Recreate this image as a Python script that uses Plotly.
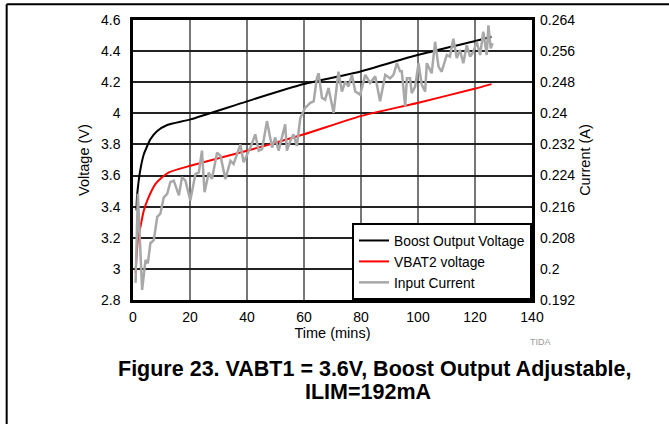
import plotly.graph_objects as go

# ---- data ----
boost_t = [1.2, 1.4, 2.0, 2.8, 3.8, 5.0, 6.1, 8.5, 12.0, 20.1, 40.0, 59.9, 79.8, 99.8, 119.8, 125.8]
boost_v = [3.376, 3.461, 3.568, 3.66, 3.737, 3.79, 3.833, 3.886, 3.925, 3.961, 4.077, 4.188, 4.269, 4.375, 4.464, 4.492]

vbat_t = [0.9, 1.7, 2.6, 3.8, 5.5, 7.9, 10.2, 12.6, 20.1, 40.0, 60.0, 79.8, 99.8, 119.8, 125.8]
vbat_v = [2.973, 3.185, 3.270, 3.376, 3.461, 3.546, 3.589, 3.621, 3.663, 3.759, 3.865, 3.982, 4.067, 4.158, 4.188]

cur_t = [0.9, 1.7, 3.2, 4.4, 5.2, 6.1, 7.3, 8.5, 9.6, 10.8, 12.0, 13.1, 14.3, 16.1, 17.2, 18.4,
         20.1, 21.9, 23.1, 24.2, 25.1, 26.6, 27.7, 29.5, 30.7, 32.4, 34.2, 35.3, 37.7, 38.8,
         41.2, 42.9, 44.1, 45.3, 47.0, 48.8, 49.9, 51.1, 53.4, 54.0, 55.2, 56.3, 57.5, 58.7,
         60.4, 62.2, 63.4, 64.5, 65.1, 66.3, 67.4, 68.6, 70.4, 72.1, 73.3, 74.5, 75.6, 76.8,
         78.0, 79.7, 81.5, 83.2, 85.0, 86.7, 88.5, 90.2, 91.4, 92.6, 93.7, 94.3, 95.5, 96.1,
         97.2, 97.8, 99.0, 100.2, 101.3, 102.5, 103.1, 104.8, 106.0, 107.2, 108.3, 110.1,
         111.2, 112.4, 113.6, 114.7, 115.9, 117.1, 118.3, 119.4, 120.6, 121.8, 122.9, 124.1,
         124.7, 125.5, 126.2]
cur_a = [0.1964, 0.2193, 0.1946, 0.2023, 0.2014, 0.2066, 0.2074, 0.2134, 0.2142, 0.2184,
         0.2193, 0.2223, 0.2227, 0.2189, 0.2236, 0.2227, 0.2176, 0.2244, 0.2248, 0.2304,
         0.2197, 0.2248, 0.2231, 0.2299, 0.2291, 0.2231, 0.2278, 0.2270, 0.2320, 0.2274,
         0.2312, 0.2346, 0.2304, 0.2308, 0.2380, 0.2312, 0.2338, 0.2304, 0.2372, 0.2304,
         0.2329, 0.2346, 0.2316, 0.2388, 0.2414, 0.2427, 0.2431, 0.2490, 0.2503, 0.2440,
         0.2435, 0.2465, 0.2401, 0.2507, 0.2456, 0.2482, 0.2469, 0.2499, 0.2456, 0.2448,
         0.2499, 0.2478, 0.2495, 0.2431, 0.2499, 0.2490, 0.2499, 0.2529, 0.2508, 0.2508,
         0.2418, 0.2490, 0.2490, 0.2452, 0.2469, 0.2529, 0.2474, 0.2456, 0.2529, 0.2503,
         0.2584, 0.2520, 0.2507, 0.2550, 0.2546, 0.2592, 0.2542, 0.2563, 0.2529, 0.2575,
         0.2546, 0.2558, 0.2584, 0.2550, 0.2610, 0.2550, 0.2626, 0.2567, 0.2580]

x_ticks = [0, 20, 40, 60, 80, 100, 120, 140]
v_ticks = [2.8, 3.0, 3.2, 3.4, 3.6, 3.8, 4.0, 4.2, 4.4, 4.6]
v_labels = ["2.8", "3", "3.2", "3.4", "3.6", "3.8", "4", "4.2", "4.4", "4.6"]
a_ticks = [0.192, 0.200, 0.208, 0.216, 0.224, 0.232, 0.240, 0.248, 0.256, 0.264]
a_labels = ["0.192", "0.2", "0.208", "0.216", "0.224", "0.232", "0.24", "0.248", "0.256", "0.264"]

title_line1 = "Figure 23. VABT1 = 3.6V, Boost Output Adjustable,"
title_line2 = "ILIM=192mA"

FONT = "Liberation Sans, Arial, sans-serif"

fig = go.Figure()
fig.add_trace(go.Scatter(x=boost_t, y=boost_v, mode="lines", name="Boost Output Voltage",
                         line=dict(color="black", width=2, shape="spline", smoothing=0.6)))
fig.add_trace(go.Scatter(x=vbat_t, y=vbat_v, mode="lines", name="VBAT2 voltage",
                         line=dict(color="#ff0000", width=2, shape="spline", smoothing=0.6)))
fig.add_trace(go.Scatter(x=cur_t, y=cur_a, mode="lines", name="Input Current", yaxis="y2",
                         line=dict(color="#a8a8a8", width=2.5)))

fig.update_layout(
    width=669, height=424,
    margin=dict(l=132.5, r=137, t=18, b=123.5),
    paper_bgcolor="white", plot_bgcolor="white",
    font=dict(family=FONT, size=14, color="black"),
    showlegend=True,
    legend=dict(x=1, y=0, xanchor="right", yanchor="bottom", bgcolor="white",
                bordercolor="black", borderwidth=2, font=dict(size=13.8, family=FONT),
                tracegroupgap=0, itemwidth=30),
    xaxis=dict(range=[0, 140], tickvals=x_ticks, ticks="", showline=True, mirror=True,
               linecolor="black", linewidth=2.5, showgrid=True, gridcolor="#777777",
               gridwidth=2, zeroline=False, ticklabelstandoff=2,
               title=dict(text="Time (mins)", font=dict(size=14.5), standoff=0)),
    yaxis=dict(range=[2.8, 4.6], tickvals=v_ticks, ticktext=v_labels, ticks="",
               showline=True, mirror=True, linecolor="black", linewidth=2.5,
               showgrid=True, gridcolor="#222222", gridwidth=1.5, zeroline=False,
               ticklabelstandoff=7,
               title=dict(text="Voltage (V)", font=dict(size=14.5), standoff=8)),
    yaxis2=dict(range=[0.192, 0.264], tickvals=a_ticks, ticktext=a_labels, ticks="",
                overlaying="y", side="right", showgrid=False, zeroline=False,
                showline=False, ticklabelstandoff=7,
                title=dict(text="Current (A)", font=dict(size=14.5), standoff=5)),
    annotations=[
        dict(text="<b>" + title_line1 + "</b>",
             xref="paper", yref="paper", x=0.607, y=-0.2478, xanchor="center",
             yanchor="middle", showarrow=False, font=dict(size=21.5, family=FONT, color="black")),
        dict(text="<b>" + title_line2 + "</b>",
             xref="paper", yref="paper", x=0.5895, y=-0.3292, xanchor="center",
             yanchor="middle", showarrow=False, font=dict(size=21.5, family=FONT, color="black")),
        dict(text="TIDA", xref="paper", yref="paper", x=1.0225, y=-0.1504,
             xanchor="center", yanchor="middle", showarrow=False,
             font=dict(size=9, family=FONT, color="#999999")),
    ],
    shapes=[
        dict(type="line", xref="paper", yref="paper", x0=-0.3166, x1=1.36, y0=1.0566, y1=1.0566,
             line=dict(color="black", width=2)),
        dict(type="line", xref="paper", yref="paper", x0=-0.3166, x1=-0.3166, y0=1.0566, y1=-0.46,
             line=dict(color="black", width=2)),
    ],
)

fig.write_html("out.html")
